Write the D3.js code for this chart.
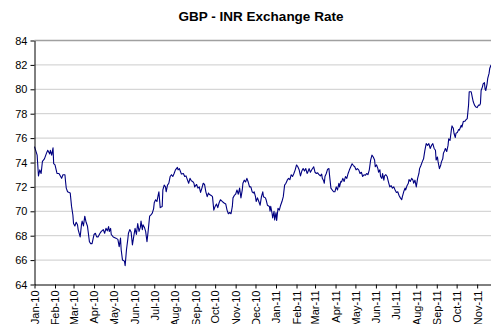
<!DOCTYPE html>
<html>
<head>
<meta charset="utf-8">
<script src="https://cdn.jsdelivr.net/npm/d3@7"></script>
<style>
html,body{margin:0;padding:0;background:#fff;}
svg{display:block;font-family:"Liberation Sans",Arial,sans-serif;}
</style>
</head>
<body>
<div id="chart"></div>
<script>
const chartTitle = "GBP - INR Exchange Rate";
const yTicks = [64,66,68,70,72,74,76,78,80,82,84];
const xStart = "2010-01-01", xEnd = "2011-12-01";
const gbpInr = [
["2010-01-01",75.3],["2010-01-05",74.6],["2010-01-07",72.9],["2010-01-09",73.4],["2010-01-11",73.1],["2010-01-13",74.1],["2010-01-16",74.3],["2010-01-19",74.75],["2010-01-21",75.0],["2010-01-24",74.7],["2010-01-25",75.0],["2010-01-27",74.6],["2010-01-29",75.2],["2010-01-30",73.9],
["2010-02-01",73.8],["2010-02-04",73.1],["2010-02-07",73.1],["2010-02-11",72.7],["2010-02-13",73.0],["2010-02-16",73.0],["2010-02-17",72.4],["2010-02-18",71.9],["2010-02-20",71.6],["2010-02-24",71.5],["2010-02-26",70.4],["2010-02-28",69.7],
["2010-03-01",69.0],["2010-03-03",68.8],["2010-03-05",69.1],["2010-03-07",68.9],["2010-03-08",68.5],["2010-03-11",67.9],["2010-03-13",68.9],["2010-03-14",69.2],["2010-03-16",68.8],["2010-03-18",69.6],["2010-03-20",69.1],["2010-03-22",68.8],["2010-03-25",67.5],["2010-03-27",67.35],["2010-03-29",67.35],
["2010-04-01",68.1],["2010-04-03",68.2],["2010-04-05",67.9],["2010-04-07",67.9],["2010-04-10",68.2],["2010-04-12",68.35],["2010-04-15",68.5],["2010-04-17",68.2],["2010-04-19",68.6],["2010-04-21",68.4],["2010-04-23",68.75],["2010-04-24",68.35],["2010-04-26",68.6],["2010-04-27",68.1],["2010-04-30",67.9],
["2010-05-04",67.8],["2010-05-07",67.7],["2010-05-09",67.1],["2010-05-11",67.8],["2010-05-12",66.85],["2010-05-14",66.0],["2010-05-16",65.95],["2010-05-17",65.9],["2010-05-18",65.55],["2010-05-20",66.85],["2010-05-22",67.7],["2010-05-23",68.2],["2010-05-25",68.5],["2010-05-27",68.3],["2010-05-29",67.25],["2010-05-31",67.95],
["2010-06-02",68.6],["2010-06-04",68.1],["2010-06-06",69.0],["2010-06-08",68.35],["2010-06-10",68.7],["2010-06-11",69.2],["2010-06-13",68.5],["2010-06-14",68.9],["2010-06-16",68.7],["2010-06-18",68.35],["2010-06-20",67.5],["2010-06-22",68.5],["2010-06-24",69.6],["2010-06-26",69.7],["2010-06-28",69.85],["2010-06-30",70.2],
["2010-07-01",70.7],["2010-07-03",70.95],["2010-07-05",70.8],["2010-07-07",71.35],["2010-07-08",71.6],["2010-07-10",70.3],["2010-07-13",70.4],["2010-07-14",71.75],["2010-07-16",72.15],["2010-07-18",72.0],["2010-07-19",71.6],["2010-07-21",72.15],["2010-07-23",72.3],["2010-07-25",72.85],["2010-07-27",73.0],["2010-07-29",72.85],["2010-07-31",73.1],
["2010-08-02",73.4],["2010-08-05",73.6],["2010-08-06",73.4],["2010-08-08",73.5],["2010-08-10",73.2],["2010-08-11",73.05],["2010-08-14",73.1],["2010-08-16",72.85],["2010-08-18",72.9],["2010-08-20",72.6],["2010-08-22",72.3],["2010-08-24",72.7],["2010-08-26",72.5],["2010-08-28",72.45],["2010-08-30",72.3],["2010-08-31",72.0],
["2010-09-03",72.2],["2010-09-05",71.9],["2010-09-07",72.0],["2010-09-09",71.55],["2010-09-11",71.9],["2010-09-13",72.3],["2010-09-15",72.2],["2010-09-17",71.6],["2010-09-19",71.2],["2010-09-21",71.5],["2010-09-22",71.4],["2010-09-25",71.3],["2010-09-27",71.2],["2010-09-29",70.1],
["2010-10-01",70.4],["2010-10-03",70.6],["2010-10-05",70.3],["2010-10-07",70.7],["2010-10-09",70.95],["2010-10-12",70.8],["2010-10-14",70.7],["2010-10-17",70.6],["2010-10-19",70.1],["2010-10-21",69.8],["2010-10-23",69.9],["2010-10-25",69.8],["2010-10-27",70.4],["2010-10-28",71.1],["2010-10-30",71.3],
["2010-11-01",71.4],["2010-11-03",71.75],["2010-11-05",71.4],["2010-11-07",71.9],["2010-11-09",71.1],["2010-11-11",71.75],["2010-11-12",72.3],["2010-11-14",72.55],["2010-11-16",72.4],["2010-11-18",72.7],["2010-11-20",72.4],["2010-11-22",72.0],["2010-11-24",72.0],["2010-11-26",71.6],["2010-11-28",71.5],["2010-11-29",71.6],
["2010-12-01",71.2],["2010-12-02",70.8],["2010-12-04",71.1],["2010-12-06",70.8],["2010-12-08",70.5],["2010-12-10",71.2],["2010-12-12",71.6],["2010-12-13",71.2],["2010-12-16",71.1],["2010-12-17",70.95],["2010-12-19",70.5],["2010-12-22",70.4],["2010-12-23",70.0],["2010-12-24",70.4],["2010-12-26",69.85],["2010-12-27",69.45],["2010-12-29",70.0],["2010-12-30",69.3],
["2011-01-01",69.9],["2011-01-02",69.25],["2011-01-04",70.25],["2011-01-06",70.1],["2011-01-08",70.5],["2011-01-10",70.8],["2011-01-12",71.2],["2011-01-14",72.15],["2011-01-16",72.3],["2011-01-18",72.55],["2011-01-20",72.7],["2011-01-22",72.6],["2011-01-24",73.0],["2011-01-26",72.85],["2011-01-28",73.1],["2011-01-30",73.4],
["2011-02-01",73.8],["2011-02-03",73.65],["2011-02-05",73.4],["2011-02-07",72.9],["2011-02-09",73.3],["2011-02-11",73.5],["2011-02-13",73.3],["2011-02-15",73.5],["2011-02-17",73.1],["2011-02-18",73.2],["2011-02-20",73.5],["2011-02-22",73.2],["2011-02-24",73.4],["2011-02-27",73.65],
["2011-03-01",73.2],["2011-03-03",73.1],["2011-03-05",73.15],["2011-03-07",73.0],["2011-03-09",72.9],["2011-03-11",73.05],["2011-03-12",72.7],["2011-03-14",72.5],["2011-03-15",72.3],["2011-03-16",72.85],["2011-03-18",73.1],["2011-03-20",73.45],["2011-03-22",73.5],["2011-03-23",72.9],["2011-03-25",71.9],["2011-03-27",71.75],["2011-03-29",71.6],["2011-03-31",71.6],
["2011-04-02",72.0],["2011-04-04",71.75],["2011-04-06",72.3],["2011-04-07",72.0],["2011-04-09",72.45],["2011-04-10",72.4],["2011-04-12",72.7],["2011-04-14",72.45],["2011-04-16",72.85],["2011-04-18",72.7],["2011-04-20",73.1],["2011-04-22",73.4],["2011-04-24",73.65],["2011-04-26",73.9],["2011-04-28",73.75],["2011-04-30",73.65],
["2011-05-02",73.4],["2011-05-04",73.5],["2011-05-06",73.4],["2011-05-08",73.1],["2011-05-10",73.2],["2011-05-12",72.85],["2011-05-14",73.0],["2011-05-16",72.95],["2011-05-18",73.1],["2011-05-20",73.0],["2011-05-22",73.4],["2011-05-24",74.2],["2011-05-26",74.6],["2011-05-28",74.45],["2011-05-30",74.2],["2011-05-31",73.65],
["2011-06-02",73.8],["2011-06-04",73.5],["2011-06-05",73.2],["2011-06-07",73.4],["2011-06-08",72.85],["2011-06-10",72.7],["2011-06-11",73.1],["2011-06-13",72.55],["2011-06-14",72.9],["2011-06-16",73.0],["2011-06-18",72.85],["2011-06-20",72.4],["2011-06-22",72.0],["2011-06-24",72.1],["2011-06-26",71.9],["2011-06-28",72.0],["2011-06-30",71.75],
["2011-07-02",71.55],["2011-07-04",71.6],["2011-07-06",71.3],["2011-07-08",71.1],["2011-07-10",70.95],["2011-07-11",71.2],["2011-07-13",71.6],["2011-07-15",71.9],["2011-07-16",71.75],["2011-07-18",72.1],["2011-07-20",72.3],["2011-07-21",72.6],["2011-07-23",72.45],["2011-07-25",72.7],["2011-07-27",72.55],["2011-07-28",72.3],["2011-07-30",72.55],
["2011-08-01",72.0],["2011-08-03",72.7],["2011-08-05",73.1],["2011-08-06",73.5],["2011-08-08",73.75],["2011-08-10",74.05],["2011-08-12",74.3],["2011-08-14",75.0],["2011-08-16",75.55],["2011-08-18",75.4],["2011-08-20",75.55],["2011-08-22",75.15],["2011-08-24",75.4],["2011-08-26",75.55],["2011-08-28",75.15],["2011-08-30",75.0],["2011-08-31",74.2],
["2011-09-02",74.45],["2011-09-03",74.05],["2011-09-05",73.5],["2011-09-07",73.8],["2011-09-08",74.05],["2011-09-10",74.3],["2011-09-11",74.75],["2011-09-13",75.0],["2011-09-14",75.15],["2011-09-16",74.9],["2011-09-18",75.4],["2011-09-19",75.95],["2011-09-21",75.8],["2011-09-23",76.65],["2011-09-24",77.0],["2011-09-26",76.8],["2011-09-27",76.4],["2011-09-29",76.05],["2011-09-30",76.4],
["2011-10-02",76.45],["2011-10-04",76.7],["2011-10-05",76.65],["2011-10-08",77.05],["2011-10-09",76.9],["2011-10-11",77.35],["2011-10-14",77.4],["2011-10-15",77.5],["2011-10-17",77.6],["2011-10-19",78.7],["2011-10-20",79.8],["2011-10-22",79.8],["2011-10-23",79.8],["2011-10-25",79.25],["2011-10-26",79.0],["2011-10-28",78.7],["2011-10-30",78.55],
["2011-11-01",78.5],["2011-11-03",78.7],["2011-11-05",78.7],["2011-11-06",78.85],["2011-11-07",79.9],["2011-11-09",80.2],["2011-11-10",80.45],["2011-11-12",80.55],["2011-11-13",80.0],["2011-11-14",79.9],["2011-11-16",80.45],["2011-11-17",80.9],["2011-11-19",81.3],["2011-11-20",81.7],["2011-11-22",82.0]
];

const W = 491, H = 324;
const parse = d3.timeParse("%Y-%m-%d");
const data = gbpInr.map(([d, v]) => ({date: parse(d), v}));

const svg = d3.select("#chart").append("svg").attr("width", W).attr("height", H);
svg.append("rect").attr("width", W).attr("height", H).attr("fill", "#fff");

const x = d3.scaleTime().domain([parse(xStart), parse(xEnd)]).range([34.5, 497]);
const y = d3.scaleLinear().domain([64, 84]).range([284.5, 40.5]);

// gridlines
svg.append("g").selectAll("line").data(yTicks.filter(t => t > 64)).join("line")
  .attr("x1", 34.5).attr("x2", W).attr("y1", d => y(d)).attr("y2", d => y(d))
  .attr("stroke", d => d === 84 ? "#a0a0a0" : "#cccccc").attr("stroke-width", d => d === 84 ? 1.5 : 1);

// line
svg.append("path").datum(data)
  .attr("fill", "none").attr("stroke", "#000080").attr("stroke-width", 1.1)
  .attr("stroke-linejoin", "round")
  .attr("d", d3.line().x(d => x(d.date)).y(d => y(d.v)));

// y axis
const ya = svg.append("g").attr("transform", "translate(34.5,0)")
  .call(d3.axisLeft(y).tickValues(yTicks).tickSize(4).tickSizeOuter(0).tickPadding(3).tickFormat(d3.format("d")));
ya.select(".domain").attr("stroke", "#000");
ya.selectAll(".tick line").attr("stroke", "#000");
ya.selectAll("text").attr("font-size", 11).attr("fill", "#000").attr("font-family", "'Liberation Sans',Arial,sans-serif");

// x axis
const xa = svg.append("g").attr("transform", "translate(0,284.5)")
  .call(d3.axisBottom(x).ticks(d3.timeMonth.every(1)).tickSize(4).tickSizeOuter(0).tickFormat(d3.timeFormat("%b-%y")));
xa.select(".domain").attr("stroke", "#000");
xa.selectAll(".tick line").attr("stroke", "#000");
xa.selectAll("text")
  .attr("font-size", 11).attr("fill", "#000").attr("font-family", "'Liberation Sans',Arial,sans-serif")
  .attr("transform", "rotate(-90)")
  .attr("x", -6).attr("y", 0).attr("dy", "0.35em")
  .style("text-anchor", "end");

// title
svg.append("text").attr("x", 261).attr("y", 21).attr("text-anchor", "middle")
  .attr("font-size", 13.5).attr("font-weight", "bold").attr("fill", "#000")
  .text(chartTitle);
</script>
</body>
</html>
